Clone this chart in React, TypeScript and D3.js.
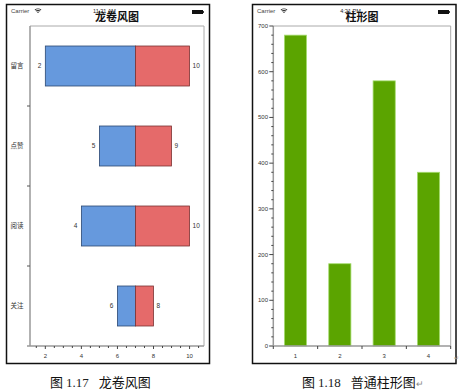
import React from "react";
import * as d3 from "d3";

// Tornado chart data
const tornadoCategories = ["留言", "点赞", "阅读", "关注"];
const tornadoLow = [2, 5, 4, 6];
const tornadoHigh = [10, 9, 10, 8];
const tornadoMid = [7, 7, 7, 7];
const tornadoTicks = [2, 4, 6, 8, 10];

// Bar chart data
const barCategories = ["1", "2", "3", "4"];
const barValues = [680, 180, 580, 380];
const barTicks = [0, 100, 200, 300, 400, 500, 600, 700];

const FONT = "'Liberation Sans', Arial, 'Noto Sans CJK SC', sans-serif";
const CJK = "'Noto Sans CJK SC', sans-serif";
const SERIF = "'Liberation Serif', 'Noto Sans CJK SC', serif";

function Wifi({ x, y }: { x: number; y: number }) {
  const arc = d3.arc();
  const mk = (r: number) =>
    arc({ innerRadius: r - 0.9, outerRadius: r, startAngle: -Math.PI / 4, endAngle: Math.PI / 4 }) as string;
  return (
    <g transform={`translate(${x},${y})`} fill="#222">
      <path d={mk(1.6)} />
      <path d={mk(3.2)} />
      <path d={mk(4.8)} />
    </g>
  );
}

function StatusBar({ x0, x1, time }: { x0: number; x1: number; time: string }) {
  const cx = (x0 + x1) / 2;
  return (
    <g>
      <text x={x0 + 4} y={13} fontSize={6} fill="#444" fontFamily={FONT}>Carrier</text>
      <Wifi x={x0 + 31} y={13.2} />
      <text x={cx - 4} y={12.5} fontSize={5.5} fill="#222" textAnchor="middle" fontFamily={FONT}>{time}</text>
      <rect x={x1 - 18} y={10} width={11} height={4} fill="#111" />
      <rect x={x1 - 7} y={11.2} width={1} height={1.6} fill="#111" />
    </g>
  );
}

function Tornado() {
  const left = 30, right = 204, top = 26, bottom = 346;
  const x = d3.scaleLinear().domain([1.15, 10.8]).range([left, right]);
  const y = d3.scaleBand<string>().domain(tornadoCategories).range([top, bottom]).paddingInner(0.5).paddingOuter(0.25);
  const yb = d3.scaleBand<string>().domain(tornadoCategories).range([top, bottom]);
  const minor = d3.range(1.5, 10.81, 0.5);
  return (
    <g>
      <rect x={6.5} y={4.5} width={203} height={359} fill="#fff" stroke="#111" strokeWidth={1.5} />
      <StatusBar x0={7} x1={210} time="11:21 AM" />
      <text x={117} y={21} fontSize={11} fontWeight="bold" textAnchor="middle" fontFamily={CJK} fill="#111">龙卷风图</text>
      <line x1={left} x2={right} y1={top} y2={top} stroke="#aaa" strokeWidth={1} />
      <line x1={right} x2={right} y1={top} y2={bottom} stroke="#aaa" strokeWidth={1} />
      {tornadoCategories.map((c, i) => {
        const yy = y(c)!;
        const h = y.bandwidth();
        return (
          <g key={c}>
            <rect x={x(tornadoLow[i])} y={yy} width={x(tornadoMid[i]) - x(tornadoLow[i])} height={h}
              fill="#6699dd" stroke="#2c4872" strokeWidth={0.8} />
            <rect x={x(tornadoMid[i])} y={yy} width={x(tornadoHigh[i]) - x(tornadoMid[i])} height={h}
              fill="#e56a6a" stroke="#7a3434" strokeWidth={0.8} />
            <text x={x(tornadoLow[i]) - 4} y={yy + h / 2 + 2} fontSize={6.5} textAnchor="end" fill="#333" fontFamily={FONT}>{tornadoLow[i]}</text>
            <text x={x(tornadoHigh[i]) + 3} y={yy + h / 2 + 2} fontSize={6.5} textAnchor="start" fill="#333" fontFamily={FONT}>{tornadoHigh[i]}</text>
            <text x={17} y={yy + h / 2 + 2.3} fontSize={6.5} textAnchor="middle" fill="#333" fontFamily={CJK}>{c}</text>
          </g>
        );
      })}
      <line x1={left} x2={left} y1={top} y2={bottom} stroke="#999" strokeWidth={1.5} />
      {tornadoCategories.slice(1).map((c) => (
        <line key={c} x1={left - 3} x2={left} y1={yb(c)!} y2={yb(c)!} stroke="#555" strokeWidth={1} />
      ))}
      <line x1={left - 3} x2={right} y1={bottom} y2={bottom} stroke="#999" strokeWidth={1.5} />
      {minor.map((v) => (
        <line key={v} x1={x(v)} x2={x(v)} y1={bottom} y2={bottom + (Number.isInteger(v) && v % 2 === 0 ? 3 : 2)} stroke="#444" strokeWidth={1} />
      ))}
      {tornadoTicks.map((t) => (
        <text key={t} x={x(t)} y={358} fontSize={6} textAnchor="middle" fill="#333" fontFamily={FONT}>{t}</text>
      ))}
    </g>
  );
}

function Bars() {
  const left = 273.3, right = 450.7, top = 26, bottom = 346;
  const y = d3.scaleLinear().domain([0, 700]).range([bottom, top]);
  const x = d3.scaleBand<string>().domain(barCategories).range([left, right]).paddingInner(0.5).paddingOuter(0.25);
  const xb = d3.scaleBand<string>().domain(barCategories).range([left, right]);
  const minor = d3.range(0, 701, 20);
  return (
    <g>
      <rect x={252.5} y={4.5} width={203.5} height={359} fill="#fff" stroke="#111" strokeWidth={1.5} />
      <StatusBar x0={253} x1={456} time="4:21 PM" />
      <text x={362} y={21} fontSize={11} fontWeight="bold" textAnchor="middle" fontFamily={CJK} fill="#111">柱形图</text>
      <line x1={left} x2={right} y1={top} y2={top} stroke="#aaa" strokeWidth={1} />
      <line x1={right} x2={right} y1={top} y2={bottom} stroke="#aaa" strokeWidth={1} />
      {barCategories.map((c, i) => (
        <rect key={c} x={x(c)} y={y(barValues[i])} width={x.bandwidth()} height={bottom - y(barValues[i])}
          fill="#5ba400" stroke="#a6dd70" strokeWidth={0.8} />
      ))}
      <line x1={left} x2={left} y1={top} y2={bottom} stroke="#999" strokeWidth={1.5} />
      {minor.map((v) => (
        <line key={v} x1={left - (v % 100 === 0 ? 4 : 2)} x2={left} y1={y(v)} y2={y(v)} stroke="#444" strokeWidth={1} />
      ))}
      {barTicks.map((t) => (
        <text key={t} x={268} y={y(t) + 2} fontSize={6} textAnchor="end" fill="#333" fontFamily={FONT}>{t}</text>
      ))}
      <line x1={left - 4} x2={right} y1={bottom} y2={bottom} stroke="#999" strokeWidth={1.5} />
      {[...barCategories.map((c) => xb(c)!), right].map((v, i) => (
        <line key={i} x1={v} x2={v} y1={bottom} y2={bottom + 3} stroke="#444" strokeWidth={1} />
      ))}
      {barCategories.map((c) => (
        <text key={c} x={x(c)! + x.bandwidth() / 2} y={358} fontSize={6} textAnchor="middle" fill="#333" fontFamily={FONT}>{c}</text>
      ))}
      <text x={453.5} y={360} fontSize={6} fill="#999" fontFamily={FONT}>↵</text>
    </g>
  );
}

export default function App() {
  return (
    <svg width={459} height={391} style={{ position: "absolute", left: 0, top: 0, background: "#fff" }}>
      <rect x={0} y={0} width={459} height={391} fill="#fff" />
      <Tornado />
      <Bars />
      <text x={50} y={387} fontSize={13} fill="#111">
        <tspan fontFamily={CJK}>图 </tspan>
        <tspan fontFamily={SERIF} fill="#222">1.17</tspan>
        <tspan fontFamily={CJK} dx={10}>龙卷风图</tspan>
      </text>
      <text x={302} y={387} fontSize={13} fill="#111">
        <tspan fontFamily={CJK}>图 </tspan>
        <tspan fontFamily={SERIF} fill="#222">1.18</tspan>
        <tspan fontFamily={CJK} dx={10}>普通柱形图</tspan>
        <tspan fontFamily={FONT} fill="#888" fontSize={9}>↵</tspan>
      </text>
    </svg>
  );
}
